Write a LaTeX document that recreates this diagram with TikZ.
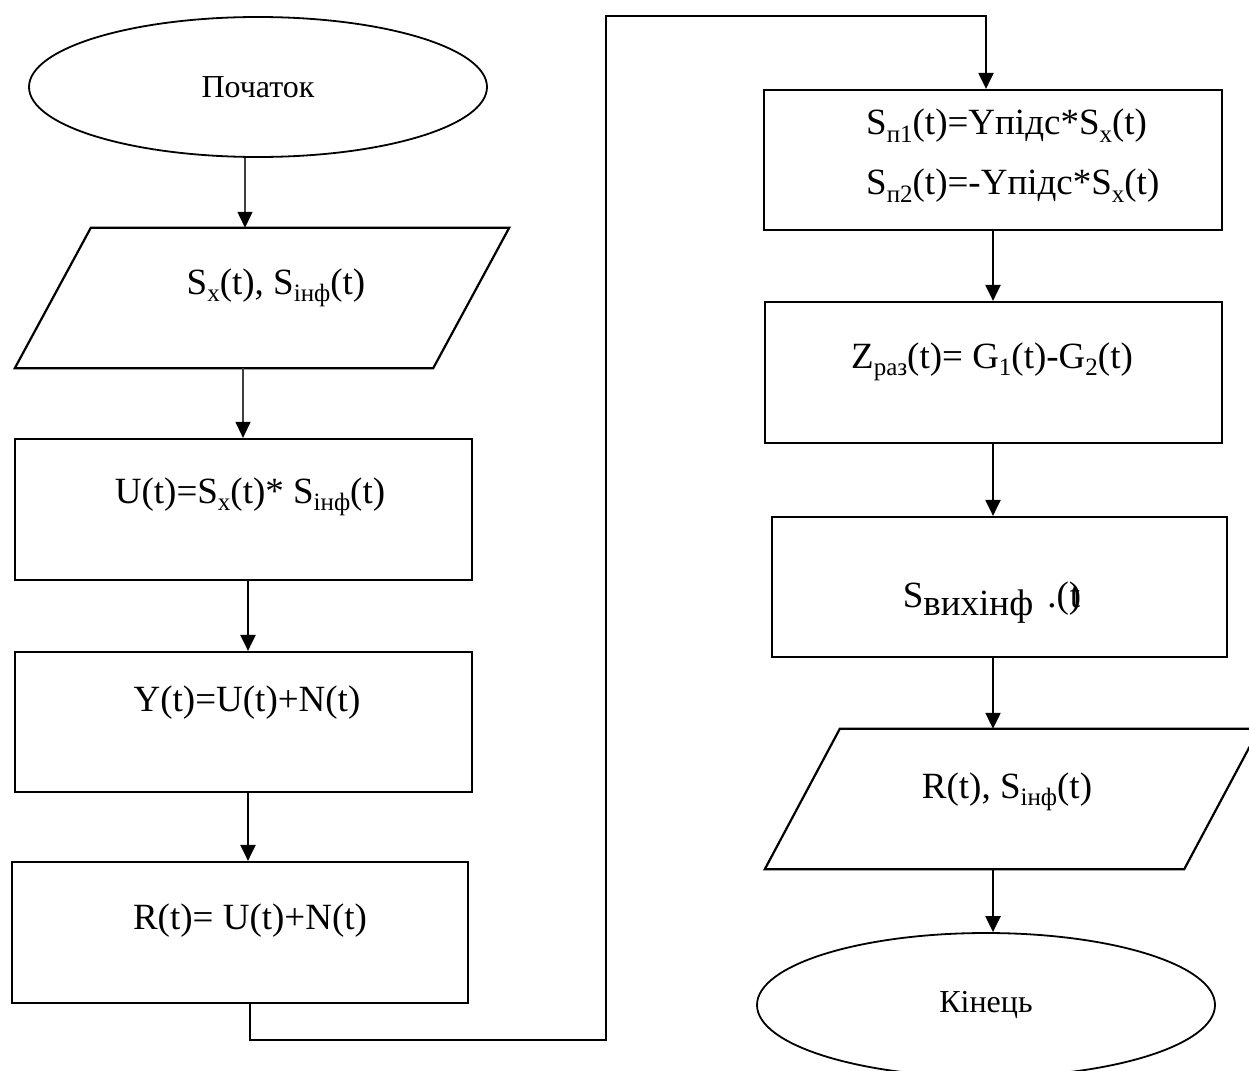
\documentclass[tikz,border=0pt]{standalone}
\usepackage{fontspec}
\setmainfont{Liberation Serif}
\usetikzlibrary{arrows.meta,shapes.geometric}

% lowered, smaller index text
\newcommand{\lowidx}[1]{\raisebox{-0.2em}{\fontsize{25}{25}\selectfont #1}}

\begin{document}
\begin{tikzpicture}[x=1pt,y=-1pt,
  every node/.style={inner sep=0pt, font=\fontsize{37}{40}\selectfont},
  term/.style={ellipse, draw, line width=1.8pt, minimum width=458pt,
               minimum height=140pt, font=\fontsize{32}{34}\selectfont},
  procbox/.style={rectangle, draw, line width=2.2pt, minimum width=457pt,
                  minimum height=140pt},
  iobox/.style={rectangle, minimum width=494pt, minimum height=140pt},
  slant/.style={line width=2.2pt, line join=miter},
  tip/.style={-{Triangle[length=16pt,width=15pt,color=black]}},
  arr/.style={tip, line width=2.2pt},
  thinarr/.style={tip, line width=1.2pt, draw=black!75},
  txt/.style={}
]
\useasboundingbox (0,0) rectangle (1249,1070);

% ---------- left column ----------
\node[term] (start) at (258,87) {Початок};

\node[iobox] (inp) at (262,298) {};
\draw[slant] ([xshift=76pt]inp.north west) -- (inp.north east)
  -- ([xshift=-76pt]inp.south east) -- (inp.south west) -- cycle;
\node[txt] (tinp) at (276,288) {S\lowidx{x}(t), S\lowidx{інф}(t)};

\node[procbox, minimum height=141pt] (u) at (243.5,509.5) {};
\node[txt] (tu) at (250,497) {U(t)=S\lowidx{x}(t)* S\lowidx{інф}(t)};

\node[procbox] (y) at (243.5,722) {};
\node[txt] (ty) at (247,703) {Y(t)=U(t)+N(t)};

\node[procbox, minimum width=456pt, minimum height=141pt] (r) at (240,932.5) {};
\node[txt] (tr) at (250,921) {R(t)= U(t)+N(t)};

% ---------- right column ----------
\node[procbox, minimum width=458pt] (sp) at (993,160) {};
\node[txt, anchor=west] (tsp1) at (866,126) {S\lowidx{п1}(t)=Yпідс*S\lowidx{x}(t)};
\node[txt, anchor=west] (tsp2) at (866,186) {S\lowidx{п2}(t)=-Yпідс*S\lowidx{x}(t)};

\node[procbox, minimum height=141pt] (z) at (993.5,372.5) {};
\node[txt] (tz) at (992,362) {Z\lowidx{раз}(t)= G\lowidx{1}(t)-G\lowidx{2}(t)};

\node[procbox, minimum width=455pt] (sv) at (999.5,587) {};
\node[txt] (tsv) at (992,603) {S\raisebox{-8pt}{вихінф}\hspace{14pt}.(\makebox[0pt][l]{\hspace{1pt}t})};

\node[iobox] (out) at (1012,799) {};
\draw[slant] ([xshift=75pt]out.north west) -- (out.north east)
  -- ([xshift=-75pt]out.south east) -- (out.south west) -- cycle;
\node[txt] (tout) at (1007,792) {R(t), S\lowidx{інф}(t)};

\node[term, minimum height=144pt] (end) at (986,1005) {Кінець};

% ---------- connectors ----------
\draw[thinarr] ([xshift=-13pt]start.south) -- ([xshift=-17pt]inp.north);
\draw[thinarr] ([xshift=-19pt]inp.south) -- ([xshift=-0.5pt]u.north);
\draw[arr] ([xshift=4.5pt]u.south) -- ([xshift=4.5pt]y.north);
\draw[arr] ([xshift=4.5pt]y.south) -- ([xshift=8pt]r.north);

\coordinate (loopa) at (606,1040);
\coordinate (loopb) at (606,16);
\draw[arr, line join=miter] ([xshift=10pt]r.south) |- (loopa) -- (loopb)
  -| ([xshift=-7pt]sp.north);

\draw[arr] (sp.south) -- ([xshift=-0.5pt]z.north);
\draw[arr] ([xshift=-0.5pt]z.south) -- ([xshift=-6.5pt]sv.north);
\draw[arr] ([xshift=-6.5pt]sv.south) -- ([xshift=-19pt]out.north);
\draw[arr] ([xshift=-19pt]out.south) -- ([xshift=7pt]end.north);
\end{tikzpicture}
\end{document}
